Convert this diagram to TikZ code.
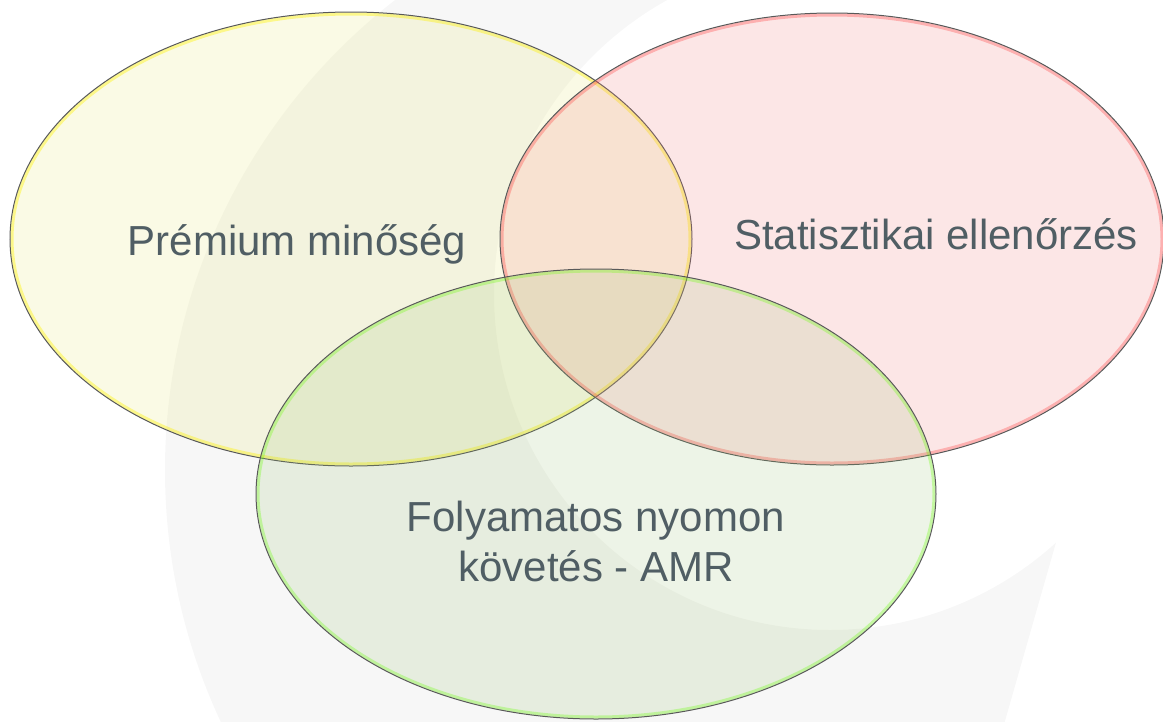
\documentclass[tikz,border=0pt]{standalone}
\usepackage{fontspec}
\setmainfont{Liberation Sans}
\usepackage{xcolor}
\usepackage{tikz}
\definecolor{hintergrau}{RGB}{247,247,247}
\definecolor{venngelb}{RGB}{235,235,150}
\definecolor{vennrot}{RGB}{240,130,130}
\definecolor{venngruen}{RGB}{150,190,110}
\definecolor{textgrau}{RGB}{80,94,100}
\tikzset{rand/.style={draw=black!65, line width=1pt},
 glanz/.style={line width=3pt, opacity=0.4},
 beschriftung/.style={font=\fontsize{42}{50}\selectfont, text=textgrau, inner sep=0pt}}

\begin{document}
\begin{tikzpicture}[x=1pt,y=-1pt]
 \useasboundingbox (0,0) rectangle (1163,721);
 \begin{scope}
  \clip (0,0) rectangle (1163,721);
  \clip (-100,-100) -- (900,-100) -- (1130,300) -- (1063,518) -- (1005,721) -- (990,800) -- (-100,800) -- cycle;
  \fill[hintergrau, even odd rule] (760,470) circle [radius=595] (830,294) circle [radius=336];
 \end{scope}
 \fill[venngelb, opacity=0.25] (351,239) circle [x radius=341, y radius=227];
 \draw[yellow, glanz] (351,239) circle [x radius=339, y radius=225];
 \draw[rand] (351,239) circle [x radius=341, y radius=227];
 \fill[vennrot, opacity=0.2] (832,239) circle [x radius=332, y radius=226];
 \draw[red!80, glanz, opacity=0.3] (832,239) circle [x radius=330, y radius=224];
 \draw[rand] (832,239) circle [x radius=332, y radius=226];
 \fill[venngruen, opacity=0.17] (596,494) circle [x radius=340, y radius=225];
 \draw[green!60!yellow, glanz, opacity=0.3] (596,494) circle [x radius=338, y radius=223];
 \draw[rand] (596,494) circle [x radius=340, y radius=225];
 \node[beschriftung, anchor=base] (premium) at (297,255) {Prémium minőség};
 \node[beschriftung, anchor=base] (statisztika) at (936,249) {Statisztikai ellenőrzés};
 \node[beschriftung, anchor=base, align=center] (amr) at (596,581) {Folyamatos nyomon\\követés - AMR};
\end{tikzpicture}
\end{document}
